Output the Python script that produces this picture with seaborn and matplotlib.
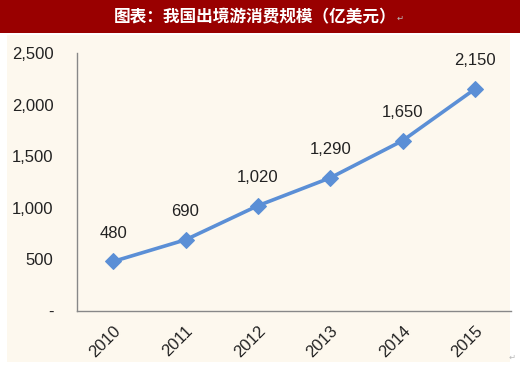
import matplotlib.pyplot as plt
import seaborn as sns
import pandas as pd
from matplotlib.patches import Rectangle

years = ['2010', '2011', '2012', '2013', '2014', '2015']
spend = [480, 690, 1020, 1290, 1650, 2150]
ytick_vals = [0, 500, 1000, 1500, 2000, 2500]
ytick_labels = ['-', '500', '1,000', '1,500', '2,000', '2,500']
title = '图表：我国出境游消费规模（亿美元）'

df = pd.DataFrame({'year': years, 'spend': spend})

sns.set_style('white')
plt.rcParams['font.family'] = ['Liberation Sans', 'DejaVu Sans']

fig = plt.figure(figsize=(5.2, 3.65), dpi=100)
fig.patch.set_facecolor('white')

# cream panel and title bar
fig.add_artist(Rectangle((7 / 520, 1 - 362 / 365), 503 / 520, 327 / 365,
                         transform=fig.transFigure, facecolor='#fdf8ee',
                         edgecolor='none', zorder=0))
fig.add_artist(Rectangle((0, 1 - 33 / 365), 1, 33 / 365,
                         transform=fig.transFigure, facecolor='#990000',
                         edgecolor='none', zorder=0))
fig.text(0.49, 1 - 17 / 365, title, color='white', fontsize=12, fontweight='bold',
         ha='center', va='center', family=['Noto Sans CJK SC', 'DejaVu Sans'])
fig.text(0.762, 1 - 18 / 365, '↵', color='#bbbbbb', fontsize=6, ha='left', va='center',
         family=['DejaVu Sans'])
fig.text(0.985, 0.02, '↵', color='#bbbbbb', fontsize=6, ha='center', va='center',
         family=['DejaVu Sans'])

ax = fig.add_axes([77 / 520, 1 - 311 / 365, 434 / 520, 258 / 365])
ax.set_facecolor('none')

sns.lineplot(data=df, x='year', y='spend', ax=ax, color='#5b8fd6', linewidth=2.6,
             marker='D', markersize=8, markeredgecolor='#5b8fd6', sort=False)

for i, v in enumerate(spend):
    ax.annotate(f'{v:,}', (i, v), xytext=(0, 15), textcoords='offset points',
                ha='center', va='bottom', fontsize=12, color='#222222')

ax.set_xlim(-0.5, len(years) - 0.5)
ax.set_ylim(0, 2500)
ax.set_yticks(ytick_vals)
ax.set_yticklabels(ytick_labels, fontsize=12, color='#222222')
ax.set_xticks(range(len(years)))
ax.set_xticklabels(years, rotation=45, ha='right', rotation_mode='anchor',
                   fontsize=12, color='#222222')
ax.tick_params(axis='x', length=0, pad=9)
ax.set_xticks([i - 0.5 for i in range(len(years) + 1)], minor=True)
ax.tick_params(axis='x', which='minor', direction='out', length=5, color='#888888')
ax.tick_params(axis='y', direction='out', length=5, color='#888888', pad=12)
ax.set_xlabel('')
ax.set_ylabel('')

for side in ['top', 'right']:
    ax.spines[side].set_visible(False)
for side in ['left', 'bottom']:
    ax.spines[side].set_color('#888888')
    ax.spines[side].set_linewidth(1)

fig.savefig('out.png', dpi=100)
